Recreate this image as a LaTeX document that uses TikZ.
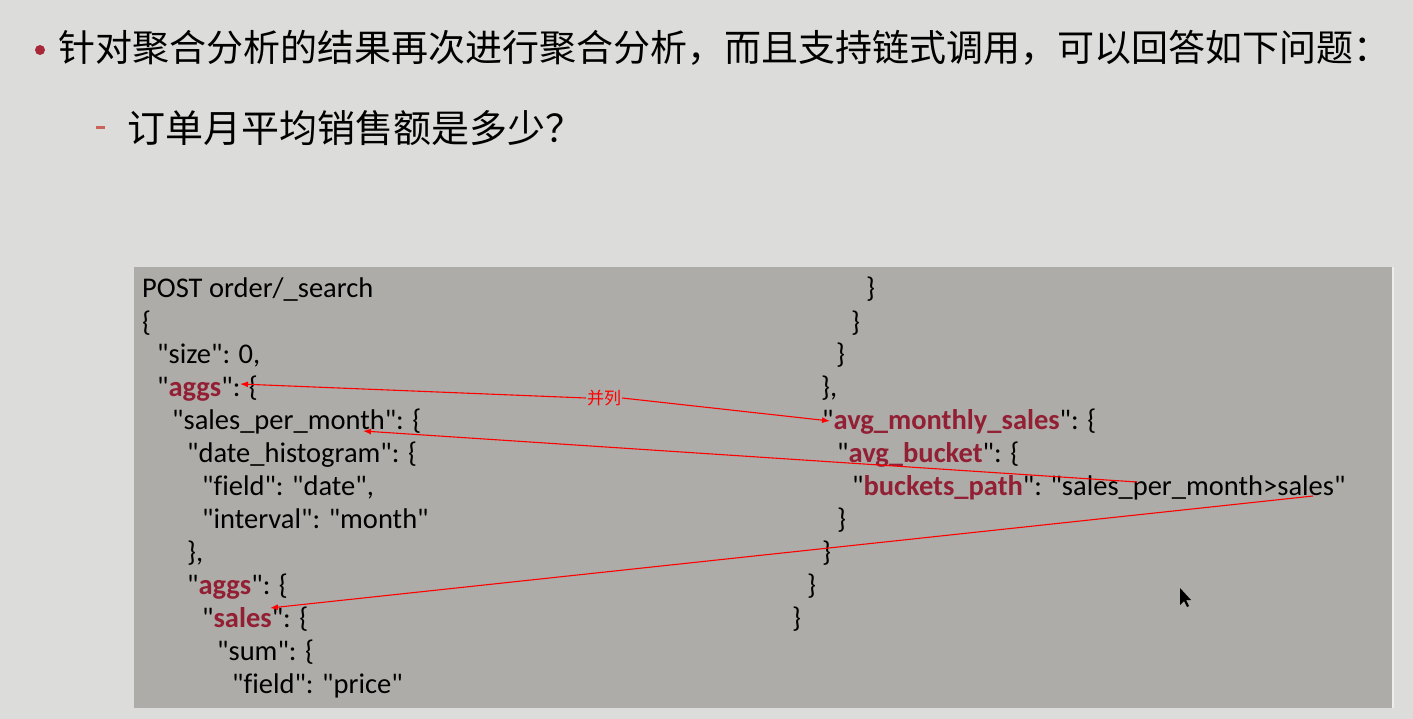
\documentclass[tikz,border=0pt]{standalone}
\usepackage{fontspec}
\setmainfont{Carlito}[Ligatures={TeXOff,CommonOff}]
\newfontfamily\cjk{Noto Sans CJK SC}
\usetikzlibrary{arrows.meta}
\definecolor{bg}{HTML}{DCDDDA}
\definecolor{codebg}{HTML}{ADACA8}
\definecolor{keyred}{HTML}{921F33}
\definecolor{bulletred}{HTML}{A8283A}
\definecolor{dashred}{HTML}{C8645A}
\newcommand\kwd[1]{\textcolor{keyred}{\textbf{#1}}}
\tikzset{
  codeline/.style={anchor=base west, inner sep=0pt, font=\fontsize{28.5}{32}\selectfont, text=black},
  titletext/.style={anchor=west, inner sep=0pt, font=\cjk\fontsize{37}{40}\selectfont, text=black},
  subtext/.style={titletext, font=\cjk\fontsize{38}{40}\selectfont},
  redarrow/.style={draw=red, line width=1.1pt, -{Latex[length=8pt,width=6pt]}},
  marklabel/.style={inner sep=1pt, font=\cjk\fontsize{17}{18}\selectfont, text=red},
}
\begin{document}
\begin{tikzpicture}[x=1pt,y=-1pt]
\fill[bg] (0,0) rectangle (1413,719);
\useasboundingbox (0,0) rectangle (1413,719);
% title
\fill[bulletred] (40,50) circle (5);
\node[titletext] (t1) at (58,48) {针对聚合分析的结果再次进行聚合分析，而且支持链式调用，可以回答如下问题：};
\fill[dashred] (96,126.5) rectangle (105,129.5);
\node[subtext] (t2) at (127,128) {订单月平均销售额是多少？};
% code box
\fill[codebg] (134,267) rectangle (1392,708);
\draw[white!80!codebg, line width=2pt] (1393,267) -- (1393,708);
% left column
\node[codeline] (l1) at (142,298) {POST order/\_search};
\node[codeline] (l2) at (142,331) {\{};
\node[codeline] (l3) at (157,363) {"size": 0,};
\node[codeline] (l4) at (157,396) {"\kwd{aggs}": \{};
\node[codeline] (l5) at (172,429) {"sales\_per\_month": \{};
\node[codeline] (l6) at (187,462) {"date\_histogram": \{};
\node[codeline] (l7) at (202,495) {"field": "date",};
\node[codeline] (l8) at (202,528) {"interval": "month"};
\node[codeline] (l9) at (187,561) {\},};
\node[codeline] (l10) at (187,594) {"\kwd{aggs}": \{};
\node[codeline] (l11) at (202,627) {"\kwd{sales}": \{};
\node[codeline] (l12) at (217,660) {"sum": \{};
\node[codeline] (l13) at (232,693) {"field": "price"};
% right column
\node[codeline] (r1) at (866,298) {\}};
\node[codeline] (r2) at (851,331) {\}};
\node[codeline] (r3) at (836,363) {\}};
\node[codeline] (r4) at (821,396) {\},};
\node[codeline] (r5) at (822,429) {"\kwd{avg\_monthly\_sales}": \{};
\node[codeline] (r6) at (837,462) {"\kwd{avg\_bucket}": \{};
\node[codeline] (r7) at (852,495) {"\kwd{buckets\_path}": "sales\_per\_month>sales"};
\node[codeline] (r8) at (837,528) {\}};
\node[codeline] (r9) at (822,561) {\}};
\node[codeline] (r10) at (807,594) {\}};
\node[codeline] (r11) at (792,627) {\}};
% arrow endpoints
\node[marklabel] (bing) at (604,398) {并列};
\coordinate (aggsTip) at (240,384);
\coordinate (avgTip) at (830,421);
\coordinate (pathA) at (1137,482);
\coordinate (spmTip) at (363,431);
\coordinate (pathB) at (1313,496);
\coordinate (salesTip) at (270,608);
\draw[redarrow] (bing.west) -- (aggsTip);
\draw[redarrow] (bing.east) -- (avgTip);
\draw[redarrow] (pathA) -- (spmTip);
\draw[redarrow] (pathB) -- (salesTip);
% mouse cursor
\fill[black] (1180,588) -- (1180,605) -- (1184,601) -- (1187,607) -- (1189,606) -- (1186,600) -- (1191,600) -- cycle;
\end{tikzpicture}
\end{document}
